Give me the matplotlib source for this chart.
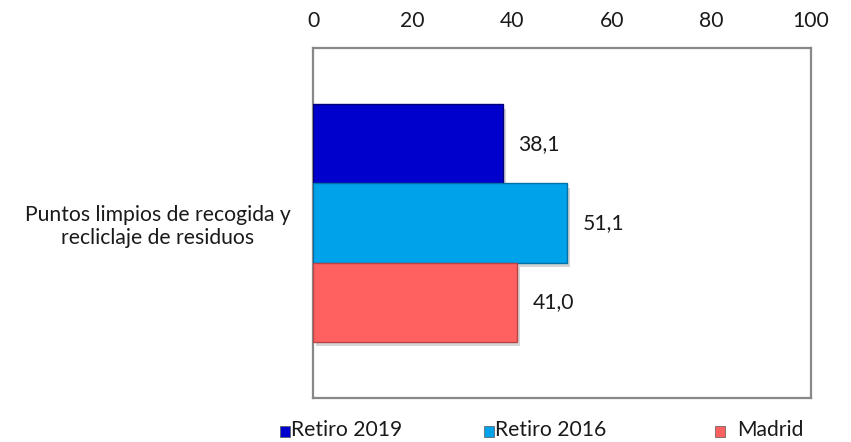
import matplotlib
matplotlib.use("Agg")
import matplotlib.pyplot as plt
import matplotlib.patheffects as pe
from matplotlib.patches import Rectangle

plt.rcParams['font.family'] = ['Lato', 'DejaVu Sans']

category = "Puntos limpios de recogida y\nrecliclaje de residuos"
series = ["Retiro 2019", "Retiro 2016", "Madrid"]
values = [38.1, 51.1, 41.0]
labels = ["38,1", "51,1", "41,0"]
colors = ["#0000CC", "#00A2EA", "#FF6161"]
edges = ["#00007A", "#0070A8", "#B84444"]
xticks = [0, 20, 40, 60, 80, 100]

FS = 15.2
W, H = 851, 442
fig = plt.figure(figsize=(W / 100, H / 100), dpi=100)
ax = fig.add_axes([313 / W, 1 - 398 / H, (811 - 313) / W, (398 - 48) / H])

bh = 0.226
offsets = [bh, 0, -bh]
for v, off, c, ec, lab in zip(values, offsets, colors, edges, labels):
    b = ax.barh(off, v, height=bh, color=c, edgecolor=ec, linewidth=1.0, zorder=3)
    b[0].set_path_effects([pe.SimplePatchShadow(offset=(2, -3), shadow_rgbFace='#888888', alpha=0.35),
                           pe.Normal()])
    ax.annotate(lab, xy=(v, off), xytext=(11, 0), textcoords='offset points',
                va='center', ha='left', fontsize=FS, color='#1a1a1a')

ax.set_xlim(0, 100)
ax.set_ylim(-0.5, 0.5)
ax.set_xticks(xticks)
ax.set_xticklabels([str(t) for t in xticks], fontsize=FS, color='#1a1a1a')
ax.xaxis.tick_top()
ax.tick_params(axis='x', length=0, pad=12.5)
ax.set_yticks([0])
ax.set_yticklabels([category], fontsize=FS, color='#1a1a1a', multialignment='center')
ax.tick_params(axis='y', length=0, pad=16)
for s in ax.spines.values():
    s.set_color('#888888')
    s.set_linewidth(1.6)

# legend
leg_items = [(280, 291), (484, 495), (715, 737)]
for (mx, tx), name, c in zip(leg_items, series, colors):
    fig.patches.append(Rectangle((mx / W, 1 - 437 / H), 10 / W, 11 / H, transform=fig.transFigure,
                                 facecolor=c, edgecolor='#555555', linewidth=0.5))
    fig.text(tx / W, 1 - 430 / H, name, fontsize=FS, va='center', ha='left', color='#1a1a1a')

fig.savefig("out.png", dpi=100)
